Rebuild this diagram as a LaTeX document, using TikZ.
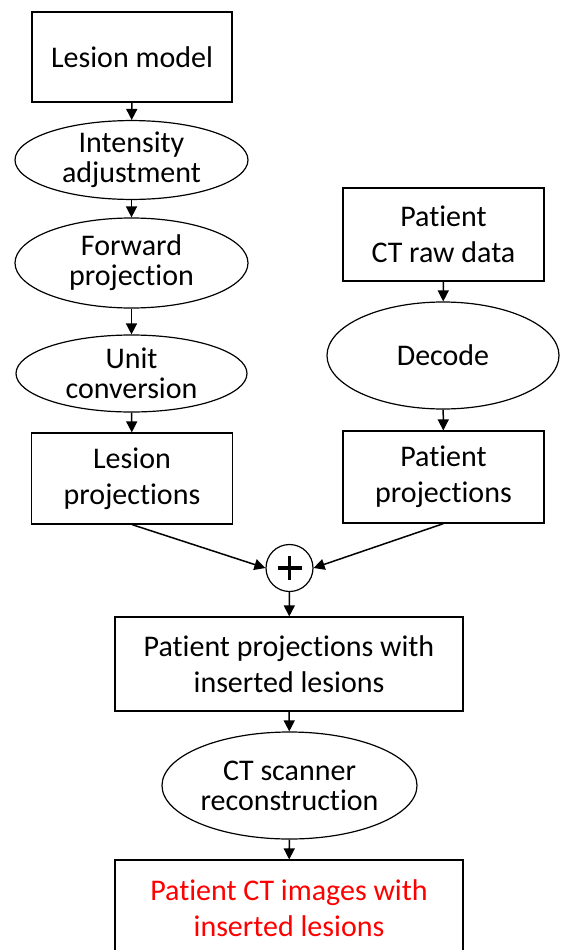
\documentclass[tikz,border=0pt]{standalone}
\usepackage{fontspec}
\setmainfont[Ligatures=NoCommon]{Carlito}
\usetikzlibrary{shapes.geometric,arrows.meta}
\begin{document}
\begin{tikzpicture}[x=1pt,y=-1pt,
  boxnode/.style={draw,line width=1.2pt,rectangle,inner sep=0pt,align=center,
    font=\fontsize{30}{36}\selectfont},
  ellnode/.style={draw,line width=1.2pt,ellipse,inner sep=0pt,align=center,
    font=\fontsize{30}{30}\selectfont},
  arr/.style={line width=1.5pt,-{Triangle[length=11pt,width=11pt]}}]
\useasboundingbox (0,0) rectangle (560,950);
\fill[white] (0,0) rectangle (560,950);
% left column
\node[boxnode,minimum width=200pt,minimum height=90pt] (lm) at (132,57) {Lesion model};
\node[ellnode,minimum width=233pt,minimum height=74pt] (ia) at (131.5,160) {Intensity\\adjustment};
\node[ellnode,minimum width=233pt,minimum height=90pt] (fp) at (131.5,263) {Forward\\projection};
\node[ellnode,minimum width=231pt,minimum height=77pt] (uc) at (131.5,373.5) {Unit\\conversion};
\node[boxnode,minimum width=201pt,minimum height=91pt] (lp) at (132,478.5) {Lesion\\projections};
% right column
\node[boxnode,minimum width=201pt,minimum height=93pt] (pr) at (443.5,234.5) {Patient\\CT raw data};
\node[ellnode,minimum width=232pt,minimum height=107pt] (dc) at (443,355.5) {Decode};
\node[boxnode,minimum width=201pt,minimum height=92pt] (pp) at (443.5,477) {Patient\\projections};
% merge
\node[draw,circle,line width=1.2pt,minimum size=47pt,inner sep=0pt] (plus) at (289.5,568) {};
\draw[line width=3.5pt] ([xshift=-12pt]plus.center) -- ([xshift=12pt]plus.center);
\draw[line width=3.5pt] ([yshift=-12pt]plus.center) -- ([yshift=12pt]plus.center);
\node[boxnode,minimum width=348pt,minimum height=94pt] (ppl) at (289,664) {Patient projections with\\inserted lesions};
\node[ellnode,minimum width=255pt,minimum height=107pt] (ct) at (289.5,785.5) {CT scanner\\reconstruction};
\node[boxnode,minimum width=348pt,minimum height=96pt,text=red] (out) at (289,908) {Patient CT images with\\inserted lesions};
% connectors
\draw[arr] (lm) -- (ia);
\draw[arr] (ia) -- (fp);
\draw[arr] (fp) -- (uc);
\draw[arr] (uc) -- (lp);
\draw[arr] (pr) -- (dc);
\draw[arr] (dc) -- (pp);
\draw[arr] (lp.south) -- (plus.west);
\draw[arr] (pp.south) -- (plus.east);
\draw[arr] (plus) -- (ppl);
\draw[arr] (ppl) -- (ct);
\draw[arr] (ct) -- (out);
\end{tikzpicture}
\end{document}
